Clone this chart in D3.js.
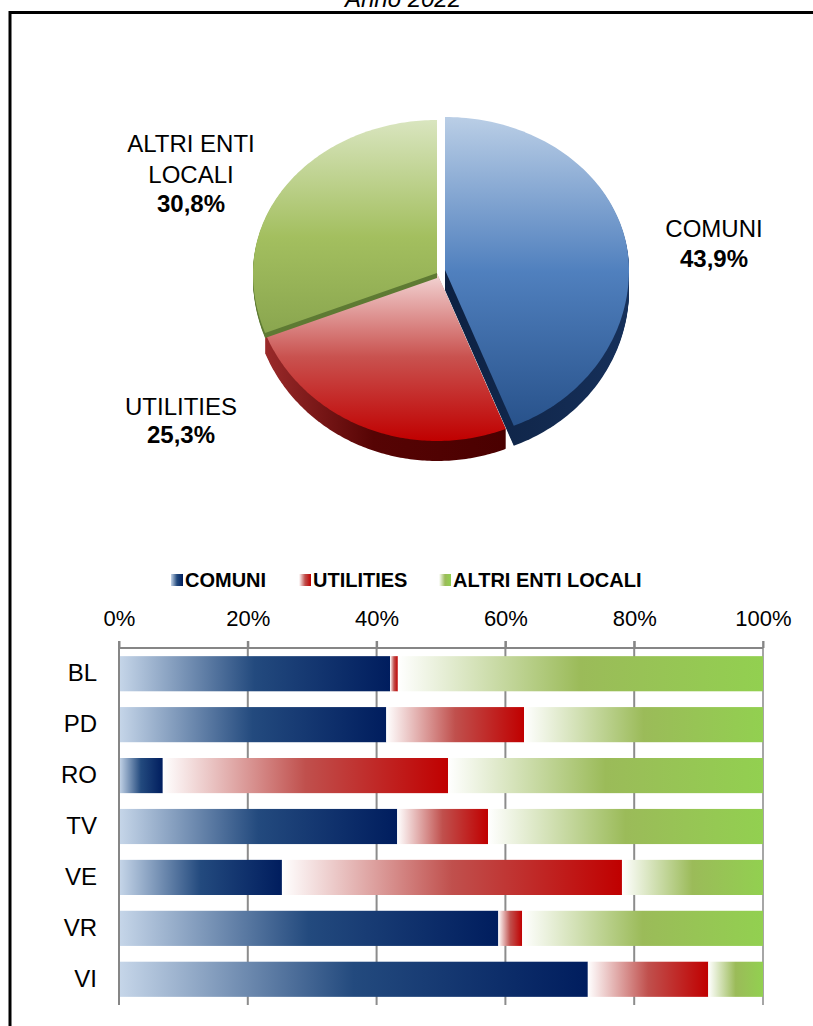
<!DOCTYPE html>
<html>
<head>
<meta charset="utf-8">
<script src="https://cdn.jsdelivr.net/npm/d3@7"></script>
<style>
  html, body { margin: 0; padding: 0; background: #fff; }
  svg { display: block; font-family: "Liberation Sans", Arial, sans-serif; }
</style>
</head>
<body>
<svg id="chart" width="813" height="1026"></svg>
<script>
// ---------- DATA ----------
const title = "Anno 2022";
const pieLabels = ["COMUNI", "UTILITIES", "ALTRI ENTI LOCALI"];
const pieValues = [43.9, 25.3, 30.8];
const pieValueText = ["43,9%", "25,3%", "30,8%"];

const seriesNames = ["COMUNI", "UTILITIES", "ALTRI ENTI LOCALI"];
const provinces = ["BL", "PD", "RO", "TV", "VE", "VR", "VI"];
const comuni    = [42.1, 41.5,  6.8, 43.2, 25.3, 58.9, 72.8];
const utilities = [ 1.2, 21.4, 44.3, 14.1, 52.8,  3.7, 18.7];
const altri     = [56.7, 37.1, 48.9, 42.7, 21.9, 37.4,  8.5];
const xTicks = [0, 20, 40, 60, 80, 100];

// ---------- SETUP ----------
const svg = d3.select("#chart");
const defs = svg.append("defs");

function linGrad(id, stops, vertical) {
  const g = defs.append("linearGradient").attr("id", id)
    .attr("x1", 0).attr("y1", 0)
    .attr("x2", vertical ? 0 : 1).attr("y2", vertical ? 1 : 0);
  stops.forEach(s => g.append("stop").attr("offset", s[0]).attr("stop-color", s[1]));
}
// bar gradients (horizontal)
linGrad("gBarC", [[0, "#c6d6e9"], [0.5, "#234a7e"], [1, "#001d5e"]], false);
linGrad("gBarU", [[0, "#ffffff"], [0.5, "#c0504d"], [1, "#c00000"]], false);
linGrad("gBarA", [[0, "#ffffff"], [0.5, "#9bbb59"], [1, "#92d050"]], false);
// pie top gradients (vertical)
linGrad("gPieC", [[0, "#bacee6"], [0.5, "#5080be"], [1, "#28528b"]], true);
linGrad("gPieU", [[0, "#f3d6d6"], [0.5, "#c9524f"], [1, "#c00000"]], true);
linGrad("gPieA", [[0, "#d9e5bf"], [0.55, "#a3bf5f"], [1, "#8aa64f"]], true);
// pie side gradients (horizontal)
linGrad("sPieC", [[0, "#0d2142"], [1, "#16305a"]], false);
linGrad("sPieU", [[0, "#9a2a2a"], [0.45, "#560404"], [1, "#4a0000"]], false);
linGrad("sPieA", [[0, "#5e7a33"], [1, "#5e7a33"]], false);

// ---------- FRAME & TITLE ----------
svg.append("rect").attr("x", 10).attr("y", 12.5).attr("width", 900).attr("height", 1100)
  .attr("fill", "none").attr("stroke", "#000").attr("stroke-width", 3);
svg.append("text").attr("x", 403).attr("y", 7).attr("text-anchor", "middle")
  .attr("font-size", 24).attr("font-style", "italic").text(title);

// ---------- PIE ----------
const cx = 437, cy = 273, R = 184, ryTop = 153, ryBot = 168, depth = 20;
const pie = d3.pie().sort(null).value(d => d)(pieValues);
const offsets = [[8, -3], [0, 0], [0, 0]];
const topFill = ["url(#gPieC)", "url(#gPieU)", "url(#gPieA)"];
const sideFill = ["url(#sPieC)", "url(#sPieU)", "url(#sPieA)"];
const sideDepth = [depth, depth, 5];

function proj(a, r) {
  const x = r * Math.sin(a);
  const y = -r * Math.cos(a);
  return [x, y < 0 ? y * ryTop / R : y * ryBot / R];
}
const line = d3.line();
function slicePath(p) {
  const pts = [[0, 0]];
  const n = 120;
  for (let i = 0; i <= n; i++) {
    const a = p.startAngle + (p.endAngle - p.startAngle) * i / n;
    pts.push(proj(a, R));
  }
  return line(pts) + "Z";
}
const pieG = svg.append("g").attr("transform", `translate(${cx},${cy})`);
// draw order: utilities, altri, comuni
[1, 2, 0].forEach(i => {
  const p = pie[i];
  const g = pieG.append("g").attr("transform", `translate(${offsets[i][0]},${offsets[i][1]})`);
  const d = slicePath(p);
  for (let k = sideDepth[i]; k >= 1; k--) {
    g.append("path").attr("d", d).attr("transform", `translate(0,${k})`)
      .attr("fill", sideFill[i]);
  }
  g.append("path").attr("d", d).attr("fill", topFill[i]);
});

// pie labels
const pieLab = svg.append("g").attr("font-size", 24).attr("text-anchor", "middle").attr("fill", "#000");
const labDefs = [
  { x: 714, lines: ["COMUNI"], ys: [237], vy: 267 },
  { x: 181, lines: ["UTILITIES"], ys: [415], vy: 443 },
  { x: 191, lines: ["ALTRI ENTI", "LOCALI"], ys: [152, 183], vy: 212 }
];
labDefs.forEach((l, i) => {
  l.lines.forEach((t, j) => pieLab.append("text").attr("x", l.x).attr("y", l.ys[j]).text(t));
  pieLab.append("text").attr("x", l.x).attr("y", l.vy).attr("font-weight", "bold").text(pieValueText[i]);
});

// ---------- LEGEND ----------
const legend = svg.append("g").attr("font-size", 20).attr("font-weight", "bold");
const legX = [171, 299, 439];
const legFill = ["url(#gBarC)", "url(#gBarU)", "url(#gBarA)"];
seriesNames.forEach((s, i) => {
  legend.append("rect").attr("x", legX[i]).attr("y", 574).attr("width", 12).attr("height", 12).attr("fill", legFill[i]);
  legend.append("text").attr("x", legX[i] + 14).attr("y", 587).text(s);
});

// ---------- BAR CHART ----------
const x = d3.scaleLinear().domain([0, 100]).range([119, 763]);
const y = d3.scaleBand().domain(provinces).range([648, 1005]).paddingInner(0.31).paddingOuter(0.16);

// gridlines
svg.append("g").selectAll("line").data(xTicks.slice(1)).join("line")
  .attr("x1", d => x(d)).attr("x2", d => x(d)).attr("y1", 641).attr("y2", 1005)
  .attr("stroke", d => d === 100 ? "#a6a6a6" : "#8c8c8c").attr("stroke-width", 2);

// bars
const series = [comuni, utilities, altri];
provinces.forEach((p, i) => {
  let acc = 0;
  series.forEach((s, j) => {
    const v = s[i];
    svg.append("rect")
      .attr("x", x(acc)).attr("y", y(p))
      .attr("width", x(acc + v) - x(acc)).attr("height", y.bandwidth())
      .attr("fill", legFill[j]);
    acc += v;
  });
});

// top axis
const xAxis = svg.append("g").attr("transform", "translate(0,648)")
  .call(d3.axisTop(x).tickValues(xTicks).tickFormat(d => d + "%").tickSize(7).tickPadding(15));
xAxis.select(".domain").attr("stroke", "#868686").attr("stroke-width", 2).attr("d", `M${x(0)},0H${x(100)}`);
xAxis.selectAll(".tick line").attr("stroke", "#868686").attr("stroke-width", 2);
xAxis.selectAll(".tick text").attr("font-size", 22).attr("fill", "#000")
  .attr("font-family", "Liberation Sans, Arial, sans-serif");

// left axis
svg.append("line").attr("x1", x(0)).attr("x2", x(0)).attr("y1", 641).attr("y2", 1005)
  .attr("stroke", "#868686").attr("stroke-width", 2);
const yAxis = svg.append("g").attr("transform", `translate(${x(0)},0)`)
  .call(d3.axisLeft(y).tickSize(0).tickPadding(22));
yAxis.select(".domain").remove();
yAxis.selectAll(".tick text").attr("font-size", 24).attr("fill", "#000")
  .attr("font-family", "Liberation Sans, Arial, sans-serif");
</script>
</body>
</html>
